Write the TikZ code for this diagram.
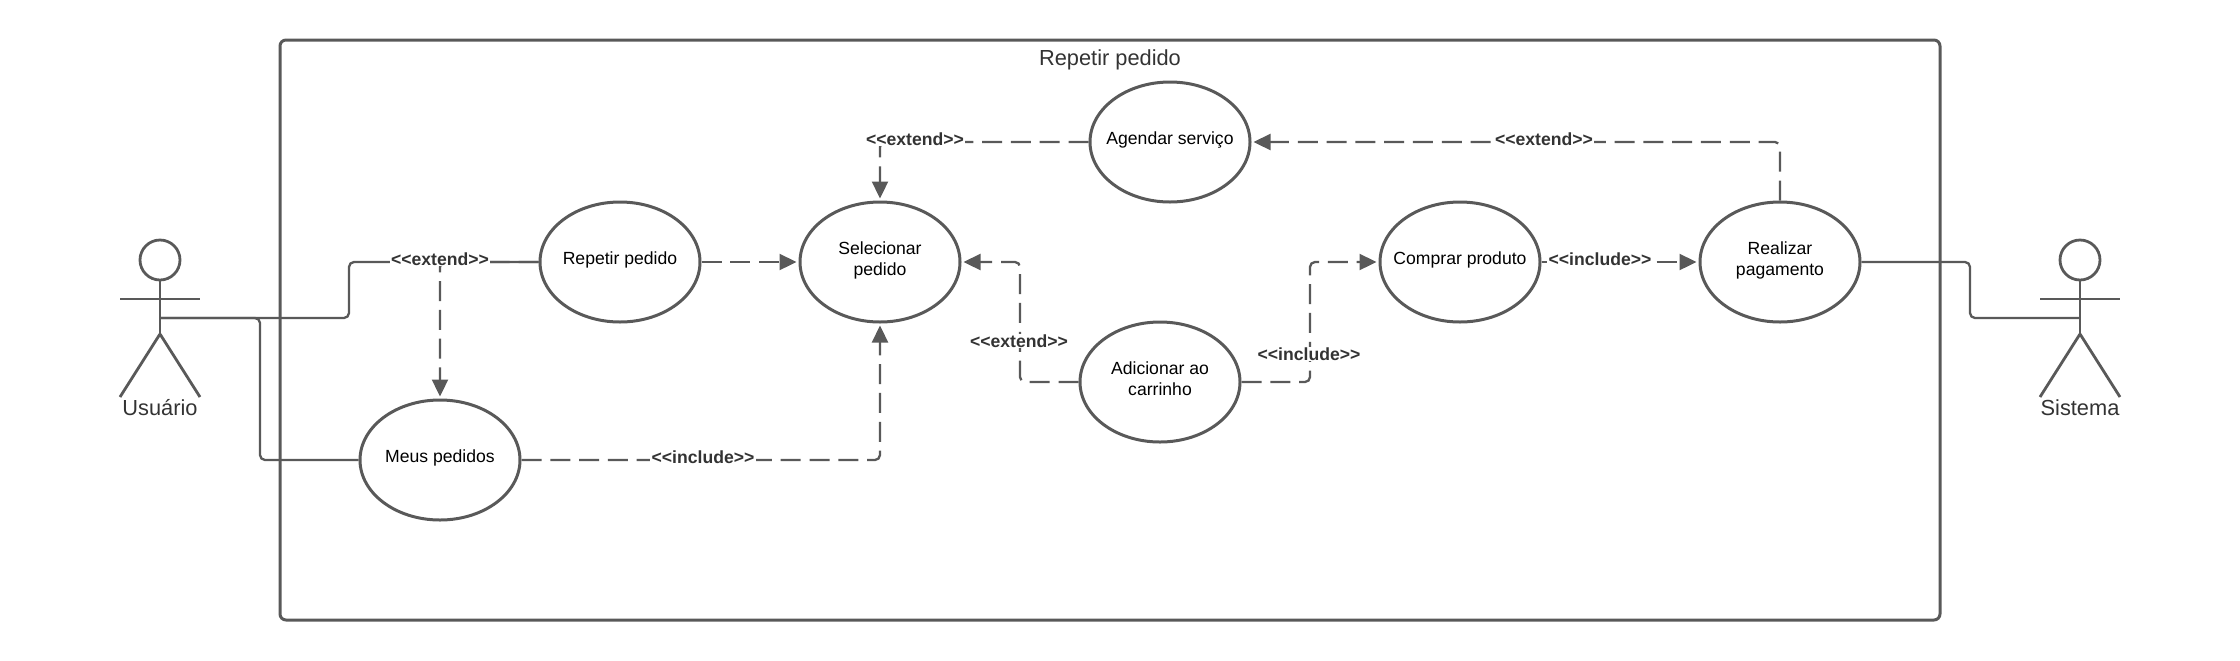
\documentclass[tikz,border=0pt]{standalone}
\usepackage{fontspec}
\setmainfont{Liberation Sans}
\usepackage{tikz}
\usetikzlibrary{arrows.meta,shapes.geometric}
\definecolor{linegray}{HTML}{595959}
\definecolor{labelgray}{HTML}{333333}

\begin{document}
\begin{tikzpicture}[x=0.5pt, y=-0.5pt,
main/.style = {draw=linegray, ellipse, line width=1.5pt, minimum width=80pt, minimum height=60pt, inner xsep=-8pt, inner ysep=0pt, text depth=3.5pt, align=center, font=\fontsize{8.8}{10.6}\selectfont},
assoc/.style = {draw=linegray, line width=1.15pt, rounded corners=2.5pt},
dep/.style = {assoc, dash pattern=on 10pt off 4.4pt, -{Triangle[length=8.5pt,width=8pt]}, shorten >=1pt},
tag/.style = {fill=white, inner xsep=0.6pt, inner ysep=0.5pt, text=labelgray, font=\fontsize{8.8}{10.6}\bfseries\selectfont},
actor/.style = {draw=linegray, line width=1.4pt},
head/.style = {actor, circle, minimum size=20pt, inner sep=0pt},
big/.style = {text=labelgray, inner sep=0pt, font=\fontsize{10.9}{13}\selectfont}]
\useasboundingbox (0,0) rectangle (2240,660);
\node[draw=linegray, line width=1.5pt, rounded corners=3pt, minimum width=830pt, minimum height=290pt] (frame) at (1110,330) {};
\node[big] (title) at (1110,60) {Repetir pedido};
\node[main] (repetir) at (620,262) {Repetir pedido};
\node[main] (selecionar) at (880,262) {Selecionar\\pedido};
\node[main] (agendar) at (1170,142) {Agendar serviço};
\node[main] (meus) at (440,460) {Meus pedidos};
\node[main] (adicionar) at (1160,382) {Adicionar ao\\carrinho};
\node[main] (comprar) at (1460,262) {Comprar produto};
\node[main] (realizar) at (1780,262) {Realizar\\pagamento};
\node[head] (usuario) at (160,260) {};
\node[head] (sistema) at (2080,260) {};
\coordinate (usuariohip) at (160,334);
\coordinate (usuarioarm) at (160,318);
\coordinate (sistemahip) at (2080,334);
\coordinate (sistemaarm) at (2080,318);
\coordinate (bendu) at (349,290);
\coordinate (bendm) at (260,400);
\coordinate (bends) at (1970,290);
\coordinate (bendc) at (1020,322);
\coordinate (bendp) at (1310,322);
\draw[actor] (usuario) -- (usuariohip);
\draw[actor] (120,299) -- (200,299);
\draw[actor] (usuariohip) -- (120,397);
\draw[actor] (usuariohip) -- (200,397);
\draw[actor] (sistema) -- (sistemahip);
\draw[actor] (2040,299) -- (2120,299);
\draw[actor] (sistemahip) -- (2040,397);
\draw[actor] (sistemahip) -- (2120,397);
\node[big] (usuariotxt) at (160,408) {Usuário};
\node[big] (sistematxt) at (2080,408) {Sistema};
\draw[assoc] (usuarioarm) -| (bendu) |- (repetir.west);
\draw[assoc] (usuarioarm) -| (bendm) |- (meus.west);
\draw[assoc] (realizar.east) -| (bends) |- (sistemaarm);
\draw[dep] (repetir.west) -| (meus.north);
\draw[dep] (repetir.east) -- (selecionar.west);
\draw[dep] (meus.east) -| (selecionar.south);
\draw[dep] (agendar.west) -| (selecionar.north);
\draw[dep] (realizar.north) |- (agendar.east);
\draw[dep] (adicionar.west) -| (bendc) |- (selecionar.east);
\draw[dep] (adicionar.east) -| (bendp) |- (comprar.west);
\draw[dep] (comprar.east) -- (realizar.west);
\node[tag] (tag1) at (440,259) {<{}<extend>{}>};
\node[tag] (tag2) at (703,457) {<{}<include>{}>};
\node[tag] (tag3) at (915,139) {<{}<extend>{}>};
\node[tag] (tag4) at (1544,139) {<{}<extend>{}>};
\node[tag] (tag5) at (1019,341) {<{}<extend>{}>};
\node[tag] (tag6) at (1309,354) {<{}<include>{}>};
\node[tag] (tag7) at (1600,259) {<{}<include>{}>};
\end{tikzpicture}
\end{document}
